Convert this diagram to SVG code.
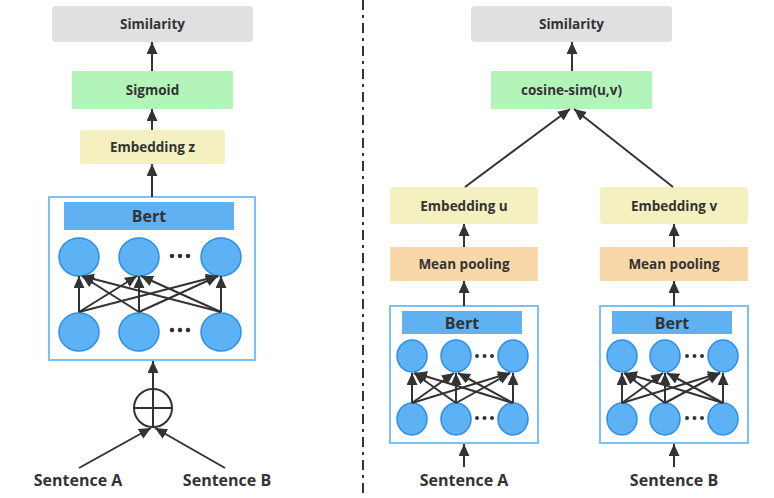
<svg xmlns="http://www.w3.org/2000/svg" width="774" height="498" viewBox="0 0 774 498">
<defs>
<marker id="ah" markerUnits="userSpaceOnUse" markerWidth="14" markerHeight="12" refX="12" refY="5.5" orient="auto">
<path d="M0,0 L12,5.5 L0,11 z" fill="#333"/>
</marker>
<style>
.lbl{font-family:"Open Sans","Liberation Sans",sans-serif;font-weight:700;fill:#333;text-anchor:middle;dominant-baseline:central}
.s13{font-size:13.5px}
.s16{font-size:16px}
.sim{fill:#e0e0e0}
.grn{fill:#b3f5b9}
.emb{fill:#f5f0c0}
.mp{fill:#f8d8a8}
.box{fill:#fff;stroke:#7cc0f5;stroke-width:2}
.bar{fill:#60b1f2}
.nd{fill:#5db2f5;stroke:#2b8ee8;stroke-width:1.5}
.ar{stroke:#333;stroke-width:2;fill:none;marker-end:url(#ah)}
.ln{stroke:#333;stroke-width:2;fill:none}
.dot{fill:#333}
</style>
</defs>
<rect width="774" height="498" fill="#fff"/>
<line x1="363" y1="0" x2="363" y2="498" stroke="#333" stroke-width="2" stroke-dasharray="10,5,3,5"/>

<!-- Left side -->
<g id="sim-left"><rect class="sim" x="52" y="6" width="201" height="36" rx="4"/><text class="lbl s13" x="152.5" y="24">Similarity</text></g>
<g id="sigmoid"><rect class="grn" x="72" y="71" width="161" height="38"/><text class="lbl s13" x="152.5" y="90">Sigmoid</text></g>
<g id="emb-z"><rect class="emb" x="80" y="130" width="145" height="34" rx="3"/><text class="lbl s13" x="152.5" y="147">Embedding z</text></g>
<g id="bert-left">
<rect class="box" x="49" y="197" width="206" height="163"/>
<rect class="bar" x="64" y="202" width="170" height="28"/>
<text class="lbl s16" x="149" y="216">Bert</text>
<ellipse class="nd" cx="79" cy="257" rx="20" ry="19"/>
<ellipse class="nd" cx="139" cy="257" rx="20" ry="19"/>
<ellipse class="nd" cx="221" cy="257" rx="20" ry="19"/>
<circle class="dot" cx="172" cy="256" r="2.3"/><circle class="dot" cx="180" cy="256" r="2.3"/><circle class="dot" cx="188" cy="256" r="2.3"/>
<ellipse class="nd" cx="79" cy="332" rx="20" ry="19"/>
<ellipse class="nd" cx="139" cy="332" rx="20" ry="19"/>
<ellipse class="nd" cx="221" cy="332" rx="20" ry="19"/>
<circle class="dot" cx="172" cy="330" r="2.3"/><circle class="dot" cx="180" cy="330" r="2.3"/><circle class="dot" cx="188" cy="330" r="2.3"/>
</g>
<g id="plus"><circle cx="153" cy="408" r="19" fill="none" stroke="#333" stroke-width="2"/><line class="ln" x1="134" y1="408" x2="172" y2="408"/><line class="ln" x1="153" y1="389" x2="153" y2="427"/></g>
<g id="sentA-left"><text class="lbl s16" x="78" y="480">Sentence A</text></g>
<g id="sentB-left"><text class="lbl s16" x="227" y="480">Sentence B</text></g>

<!-- Right side -->
<g id="sim-right"><rect class="sim" x="471" y="6" width="201" height="36" rx="4"/><text class="lbl s13" x="571.5" y="24">Similarity</text></g>
<g id="cosine"><rect class="grn" x="491" y="71" width="161" height="38"/><text class="lbl s13" x="571.5" y="90">cosine-sim(u,v)</text></g>
<g id="emb-u"><rect class="emb" x="390" y="187" width="148" height="37" rx="3"/><text class="lbl s13" x="464" y="205.5">Embedding u</text></g>
<g id="emb-v"><rect class="emb" x="600" y="187" width="148" height="37" rx="3"/><text class="lbl s13" x="674" y="205.5">Embedding v</text></g>
<g id="mp-a"><rect class="mp" x="390" y="247" width="148" height="34"/><text class="lbl s13" x="464" y="264">Mean pooling</text></g>
<g id="mp-b"><rect class="mp" x="600" y="247" width="148" height="34"/><text class="lbl s13" x="674" y="264">Mean pooling</text></g>
<g id="bert-a">
<rect class="box" x="390" y="306" width="148" height="137"/>
<rect class="bar" x="402" y="311" width="120" height="23"/>
<text class="lbl s16" x="462" y="322.5">Bert</text>
<ellipse class="nd" cx="412" cy="356" rx="15" ry="16"/>
<ellipse class="nd" cx="456" cy="356" rx="15" ry="16"/>
<ellipse class="nd" cx="513" cy="356" rx="15" ry="16"/>
<circle class="dot" cx="477" cy="356" r="2"/><circle class="dot" cx="484.5" cy="356" r="2"/><circle class="dot" cx="492" cy="356" r="2"/>
<ellipse class="nd" cx="412" cy="419" rx="15" ry="16"/>
<ellipse class="nd" cx="456" cy="419" rx="15" ry="16"/>
<ellipse class="nd" cx="513" cy="419" rx="15" ry="16"/>
<circle class="dot" cx="477" cy="418" r="2"/><circle class="dot" cx="484.5" cy="418" r="2"/><circle class="dot" cx="492" cy="418" r="2"/>
</g>
<g id="bert-b">
<rect class="box" x="600" y="306" width="148" height="137"/>
<rect class="bar" x="612" y="311" width="120" height="23"/>
<text class="lbl s16" x="672" y="322.5">Bert</text>
<ellipse class="nd" cx="622" cy="356" rx="15" ry="16"/>
<ellipse class="nd" cx="665" cy="356" rx="15" ry="16"/>
<ellipse class="nd" cx="723" cy="356" rx="15" ry="16"/>
<circle class="dot" cx="687" cy="356" r="2"/><circle class="dot" cx="694.5" cy="356" r="2"/><circle class="dot" cx="702" cy="356" r="2"/>
<ellipse class="nd" cx="622" cy="419" rx="15" ry="16"/>
<ellipse class="nd" cx="665" cy="419" rx="15" ry="16"/>
<ellipse class="nd" cx="723" cy="419" rx="15" ry="16"/>
<circle class="dot" cx="687" cy="418" r="2"/><circle class="dot" cx="694.5" cy="418" r="2"/><circle class="dot" cx="702" cy="418" r="2"/>
</g>
<g id="sentA-right"><text class="lbl s16" x="464" y="480">Sentence A</text></g>
<g id="sentB-right"><text class="lbl s16" x="674" y="480">Sentence B</text></g>

<g id="connectors">
<line class="ar" x1="152" y1="71" x2="152" y2="42"/>
<line class="ar" x1="152" y1="130" x2="152" y2="109"/>
<line class="ar" x1="152" y1="197" x2="152" y2="164"/>
<line class="ar" x1="153" y1="389" x2="153" y2="361"/>
<line class="ar" x1="79" y1="468" x2="151" y2="428"/>
<line class="ar" x1="225" y1="468" x2="155" y2="428"/>
<line class="ar" x1="79" y1="312" x2="79" y2="276"/>
<line class="ar" x1="79" y1="312" x2="137" y2="276"/>
<line class="ar" x1="79" y1="312" x2="218" y2="276"/>
<line class="ar" x1="139" y1="312" x2="82" y2="276"/>
<line class="ar" x1="139" y1="312" x2="139" y2="276"/>
<line class="ar" x1="139" y1="312" x2="218" y2="276"/>
<line class="ar" x1="221" y1="312" x2="82" y2="276"/>
<line class="ar" x1="221" y1="312" x2="141" y2="276"/>
<line class="ar" x1="221" y1="312" x2="221" y2="276"/>
<line class="ar" x1="572" y1="71" x2="572" y2="42"/>
<line class="ar" x1="465" y1="187" x2="570" y2="109"/>
<line class="ar" x1="673" y1="187" x2="574" y2="109"/>
<line class="ar" x1="464" y1="247" x2="464" y2="224"/>
<line class="ar" x1="674" y1="247" x2="674" y2="224"/>
<line class="ar" x1="464" y1="306" x2="464" y2="281"/>
<line class="ar" x1="674" y1="306" x2="674" y2="281"/>
<line class="ar" x1="464" y1="467" x2="464" y2="444"/>
<line class="ar" x1="674" y1="467" x2="674" y2="444"/>
<line class="ar" x1="412" y1="403" x2="412" y2="373"/>
<line class="ar" x1="412" y1="403" x2="454" y2="373"/>
<line class="ar" x1="412" y1="403" x2="510" y2="373"/>
<line class="ar" x1="456" y1="403" x2="414" y2="373"/>
<line class="ar" x1="456" y1="403" x2="456" y2="373"/>
<line class="ar" x1="456" y1="403" x2="510" y2="373"/>
<line class="ar" x1="513" y1="403" x2="415" y2="373"/>
<line class="ar" x1="513" y1="403" x2="458" y2="373"/>
<line class="ar" x1="513" y1="403" x2="513" y2="373"/>
<line class="ar" x1="622" y1="403" x2="622" y2="373"/>
<line class="ar" x1="622" y1="403" x2="663" y2="373"/>
<line class="ar" x1="622" y1="403" x2="720" y2="373"/>
<line class="ar" x1="665" y1="403" x2="624" y2="373"/>
<line class="ar" x1="665" y1="403" x2="665" y2="373"/>
<line class="ar" x1="665" y1="403" x2="720" y2="373"/>
<line class="ar" x1="723" y1="403" x2="625" y2="373"/>
<line class="ar" x1="723" y1="403" x2="667" y2="373"/>
<line class="ar" x1="723" y1="403" x2="723" y2="373"/>
</g>
</svg>
